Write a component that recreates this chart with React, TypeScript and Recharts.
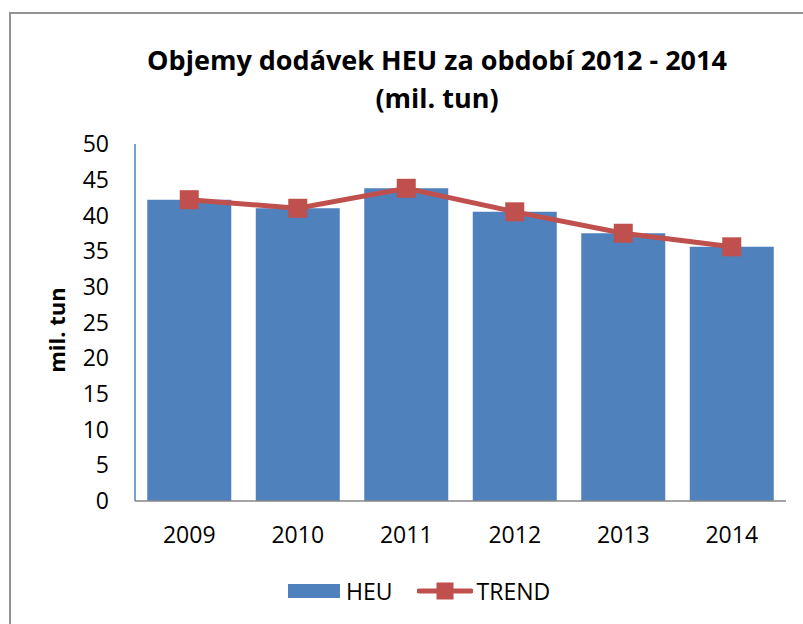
import React from "react"
import { ComposedChart, Bar, Line, XAxis, YAxis, Legend } from "recharts"

const years = ["2009", "2010", "2011", "2012", "2013", "2014"]
const heu = [42.2, 41.0, 43.8, 40.5, 37.5, 35.6]
const trend = [42.2, 41.0, 43.8, 40.5, 37.5, 35.6]
const yTicks = [0, 5, 10, 15, 20, 25, 30, 35, 40, 45, 50]

const data = years.map((year, i) => ({ year, HEU: heu[i], TREND: trend[i] }))

const FONT = "'Open Sans', sans-serif"
const BLUE = "#4f81bd"
const RED = "#c0504d"

const SquareDot = ({ cx, cy }: any) => {
  if (cx == null || cy == null) return null
  return <rect x={cx - 9.5} y={cy - 9.5} width={19} height={19} fill={RED} />
}

const YLabel = () => (
  <text
    x={56}
    y={330}
    transform="rotate(-90 56 330)"
    textAnchor="middle"
    dominantBaseline="central"
    fontFamily={FONT}
    fontWeight={700}
    fontSize={22}
    fill="#000"
  >
    mil. tun
  </text>
)

const renderLegend = () => (
  <div
    style={{
      display: "flex",
      alignItems: "center",
      height: 30,
      fontFamily: FONT,
      fontSize: 23,
      color: "#000",
      paddingLeft: 288,
    }}
  >
    <span style={{ display: "inline-block", width: 52, height: 14, background: BLUE }} />
    <span style={{ marginLeft: 6 }}>HEU</span>
    <svg width={56} height={20} style={{ marginLeft: 24 }}>
      <line x1={2} y1={10} x2={54} y2={10} stroke={RED} strokeWidth={5} strokeLinecap="round" />
      <rect x={19.5} y={1.5} width={17} height={17} fill={RED} />
    </svg>
    <span style={{ marginLeft: 4 }}>TREND</span>
  </div>
)

export default function App() {
  return (
    <div style={{ position: "absolute", left: 0, top: 0, width: 803, height: 624, background: "#fff", overflow: "hidden" }}>
      <div
        style={{
          position: "absolute",
          left: 9,
          top: 12,
          width: 820,
          height: 640,
          borderLeft: "2px solid #939393",
          borderTop: "2px solid #939393",
        }}
      />
      <div
        style={{
          position: "absolute",
          left: 0,
          top: 41,
          width: 874,
          textAlign: "center",
          fontFamily: FONT,
          fontWeight: 700,
          fontSize: 27,
          lineHeight: "38px",
          color: "#000",
        }}
      >
        Objemy dodávek HEU za období 2012 - 2014
        <br />
        (mil. tun)
      </div>
      <ComposedChart
        width={803}
        height={624}
        data={data}
        margin={{ top: 144, right: 17, left: 0, bottom: 53 }}
        barCategoryGap="11.3%"
        style={{ position: "absolute", left: 0, top: 0 }}
      >
        <XAxis
          dataKey="year"
          height={40}
          tickLine={false}
          tickSize={0}
          tickMargin={26}
          axisLine={{ stroke: "#868686", strokeWidth: 1.5 }}
          tick={{ fill: "#000", fontSize: 23, fontFamily: FONT }}
        />
        <YAxis
          width={135}
          domain={[0, 50]}
          ticks={yTicks}
          interval={0}
          tickLine={false}
          tickSize={0}
          tickMargin={26}
          axisLine={{ stroke: BLUE, strokeWidth: 1.5 }}
          tick={{ fill: "#000", fontSize: 23, fontFamily: FONT }}
          label={<YLabel />}
        />
        <Bar dataKey="HEU" fill={BLUE} isAnimationActive={false} />
        <Line
          dataKey="TREND"
          stroke={RED}
          strokeWidth={5}
          dot={<SquareDot />}
          activeDot={false}
          isAnimationActive={false}
        />
        <Legend
          verticalAlign="bottom"
          content={renderLegend}
          wrapperStyle={{ top: 576, bottom: "auto", left: 0, width: 803 }}
        />
      </ComposedChart>
    </div>
  )
}
